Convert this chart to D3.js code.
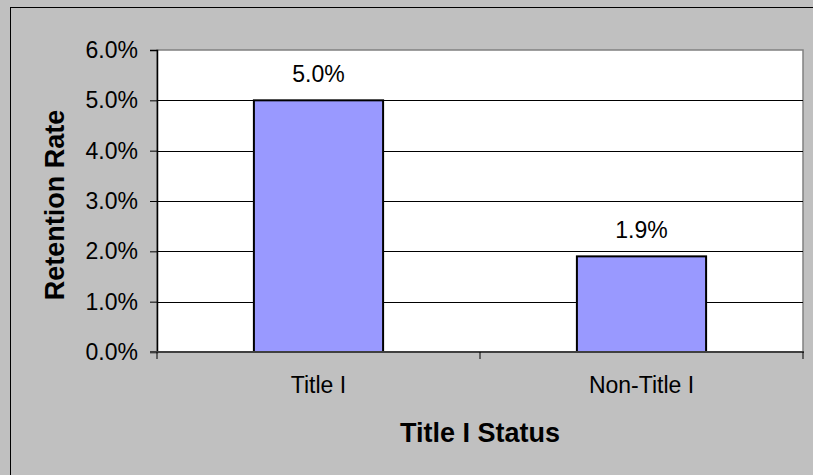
<!DOCTYPE html>
<html>
<head>
<meta charset="utf-8">
<script src="https://cdn.jsdelivr.net/npm/d3@7"></script>
<style>
  body { margin: 0; background: #c0c0c0; }
  svg { display: block; font-family: "Liberation Sans", Arial, sans-serif; }
</style>
</head>
<body>
<script>
// chart data
const categories = ["Title I", "Non-Title I"];
const retention = [0.050, 0.019];
const yTicks = [0, 0.01, 0.02, 0.03, 0.04, 0.05, 0.06];

const W = 813, H = 475;
const plot = { left: 157, right: 803, top: 50, bottom: 352 };

const svg = d3.select("body").append("svg")
  .attr("width", W)
  .attr("height", H);

// chart area background + border (runs off the right/bottom edge)
svg.append("rect")
  .attr("x", 10.5).attr("y", 7.5)
  .attr("width", W + 20).attr("height", H + 20)
  .attr("fill", "#c0c0c0")
  .attr("stroke", "#000")
  .attr("stroke-width", 1);

// scales
const x = d3.scaleBand()
  .domain(categories)
  .range([plot.left, plot.right])
  .padding(0);

const y = d3.scaleLinear()
  .domain([0, 0.06])
  .range([plot.bottom, plot.top]);

// plot area
svg.append("rect")
  .attr("x", plot.left).attr("y", plot.top)
  .attr("width", plot.right - plot.left)
  .attr("height", plot.bottom - plot.top)
  .attr("fill", "#fff")
  .attr("stroke", "#808080")
  .attr("stroke-width", 1.5);

// gridlines
svg.append("g")
  .selectAll("line")
  .data(yTicks.filter(d => d > 0 && d < 0.06))
  .enter()
  .append("line")
    .attr("x1", plot.left).attr("x2", plot.right)
    .attr("y1", d => Math.round(y(d)) + 0.5)
    .attr("y2", d => Math.round(y(d)) + 0.5)
    .attr("stroke", "#000")
    .attr("stroke-width", 1);

// bars
const barW = x.bandwidth() * 0.4;
svg.append("g")
  .selectAll("rect")
  .data(retention)
  .enter()
  .append("rect")
    .attr("x", (d, i) => x(categories[i]) + (x.bandwidth() - barW) / 2)
    .attr("y", d => y(d))
    .attr("width", barW)
    .attr("height", d => y(0) - y(d))
    .attr("fill", "#9999ff")
    .attr("stroke", "#000")
    .attr("stroke-width", 2);

// value labels
svg.append("g")
  .selectAll("text")
  .data(retention)
  .enter()
  .append("text")
    .attr("x", (d, i) => x(categories[i]) + x.bandwidth() / 2)
    .attr("y", d => y(d) - 18.5)
    .attr("text-anchor", "middle")
    .style("font-size", "23px")
    .text(d => d3.format(".1%")(d));

// y axis
const yAxis = d3.axisLeft(y)
  .tickValues(yTicks)
  .tickFormat(d3.format(".1%"))
  .tickSize(7)
  .tickPadding(12);

const gy = svg.append("g")
  .attr("transform", "translate(" + plot.left + ",0)")
  .call(yAxis);
gy.select(".domain").attr("stroke", "#000").attr("stroke-width", 1.5);
gy.selectAll(".tick line").attr("stroke", "#000");
gy.selectAll(".tick text")
  .attr("fill", "#000")
  .style("font-size", "23px")
  .style("font-family", "Liberation Sans, Arial, sans-serif");

// x axis line + ticks between categories
svg.append("line")
  .attr("x1", plot.left - 7).attr("x2", plot.right + 1)
  .attr("y1", plot.bottom).attr("y2", plot.bottom)
  .attr("stroke", "#404040")
  .attr("stroke-width", 2);

const xTickPos = [plot.left, plot.left + x.bandwidth(), plot.right];
svg.append("g")
  .selectAll("line")
  .data(xTickPos)
  .enter()
  .append("line")
    .attr("x1", d => d).attr("x2", d => d)
    .attr("y1", plot.bottom).attr("y2", plot.bottom + 7)
    .attr("stroke", "#000");

// category labels
svg.append("g")
  .selectAll("text")
  .data(categories)
  .enter()
  .append("text")
    .attr("x", d => x(d) + x.bandwidth() / 2)
    .attr("y", 393)
    .attr("text-anchor", "middle")
    .style("font-size", "23px")
    .text(d => d);

// axis titles
svg.append("text")
  .attr("x", (plot.left + plot.right) / 2)
  .attr("y", 442)
  .attr("text-anchor", "middle")
  .style("font-size", "27px")
  .style("font-weight", "bold")
  .text("Title I Status");

svg.append("text")
  .attr("transform", "translate(64,205)rotate(-90)")
  .attr("text-anchor", "middle")
  .style("font-size", "27px")
  .style("font-weight", "bold")
  .text("Retention Rate");
</script>
</body>
</html>
